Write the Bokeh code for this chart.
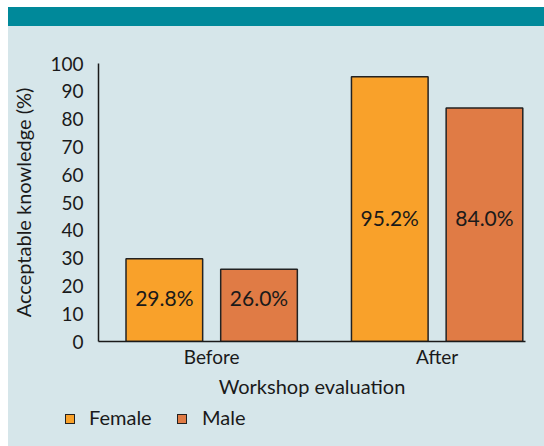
from bokeh.plotting import figure
from bokeh.models import (ColumnDataSource, Range1d, FixedTicker, Div, LabelSet)
from bokeh.core.properties import value
from bokeh.transform import dodge
from bokeh.layouts import column
from bokeh.embed import file_html
from bokeh.resources import INLINE

# ---- data ----
categories = ["Before", "After"]
female = [29.8, 95.2]
male = [26.0, 84.0]
label_y = [15.8, 44.5]   # where the value labels sit (data units)
y_ticks = [0, 10, 20, 30, 40, 50, 60, 70, 80, 90, 100]
series = ["Female", "Male"]

BG = "#d6e6ea"
TEAL = "#00899a"
C_F = "#f9a12a"
C_M = "#e07b45"
FONT = "Lato"
TXT = "#1a1a1a"
EDGE = "#222222"

idx = list(range(len(categories)))
src = ColumnDataSource(dict(
    idx=idx, cat=categories, female=female, male=male, ly=label_y,
    flab=[f"{v:.1f}%" for v in female], mlab=[f"{v:.1f}%" for v in male],
))

W = 536
p = figure(width=W, height=374, output_backend="svg", toolbar_location=None,
           x_range=Range1d(-0.502, 1.392), y_range=Range1d(0, 100),
           min_border_left=89, min_border_right=19, min_border_top=37, min_border_bottom=59)
p.background_fill_color = BG
p.border_fill_color = BG
p.outline_line_color = None
p.grid.visible = False

p.vbar(x=dodge("idx", -0.21), top="female", width=0.34, source=src,
       fill_color=C_F, line_color=EDGE, line_width=1.5)
p.vbar(x=dodge("idx", 0.21), top="male", width=0.34, source=src,
       fill_color=C_M, line_color=EDGE, line_width=1.5)

for col, off in (("flab", -0.21), ("mlab", 0.21)):
    p.add_layout(LabelSet(x=dodge("idx", off), y="ly", text=col, source=src,
                          text_align="center", text_baseline="middle",
                          text_font=value(FONT), text_font_size=value("21px"),
                          text_color=TXT))

# axes
p.xaxis.ticker = FixedTicker(ticks=idx)
p.xaxis.major_label_overrides = {i: c for i, c in zip(idx, categories)}
p.xaxis.minor_tick_line_color = None
p.xaxis.major_tick_out = 0
p.xaxis.major_tick_in = 0
p.xaxis.axis_label = "Workshop evaluation"
p.xaxis.major_label_standoff = 3
p.xaxis.axis_label_standoff = 3

p.yaxis.ticker = FixedTicker(ticks=y_ticks)
p.yaxis.minor_tick_line_color = None
p.yaxis.major_tick_out = 8
p.yaxis.major_tick_in = 0
p.yaxis.major_label_standoff = 7
p.yaxis.axis_label = "Acceptable knowledge (%)"
p.yaxis.axis_label_standoff = 12

for ax in (p.xaxis, p.yaxis):
    ax.axis_line_color = TXT
    ax.axis_line_width = 1.5
    ax.major_tick_line_color = TXT if ax is p.yaxis else None
    ax.major_tick_line_width = 1.5
    ax.major_label_text_font = FONT
    ax.major_label_text_font_size = "19px"
    ax.major_label_text_color = TXT
    ax.axis_label_text_font = FONT
    ax.axis_label_text_font_size = "20px"
    ax.axis_label_text_font_style = "normal"
    ax.axis_label_text_color = TXT

# legend strip below the plot (HTML, so it is not clipped by the plot frame)
def swatch(left, color):
    return (f'<span style="position:absolute;left:{left}px;top:14px;width:10px;height:10px;'
            f'background:{color};border:1px solid {EDGE};"></span>')

def lab(left, text):
    return (f'<span style="position:absolute;left:{left}px;top:5px;line-height:24px;'
            f'white-space:nowrap;">{text}</span>')

legend_html = (
    f'<div style="position:relative;width:{W}px;height:46px;font-family:{FONT};'
    f'font-size:20px;color:{TXT};">'
    + swatch(57, C_F) + lab(81, series[0])
    + swatch(169, C_M) + lab(194, series[1])
    + '</div>'
)
legend_div = Div(text=legend_html, width=W, height=46, margin=0)

band = Div(width=W, height=19, margin=0, styles={"background-color": TEAL})
layout = column(band, p, legend_div, spacing=0, margin=(7, 0, 0, 8),
                styles={"background-color": BG})

open("out.html", "w").write(file_html(layout, INLINE))
